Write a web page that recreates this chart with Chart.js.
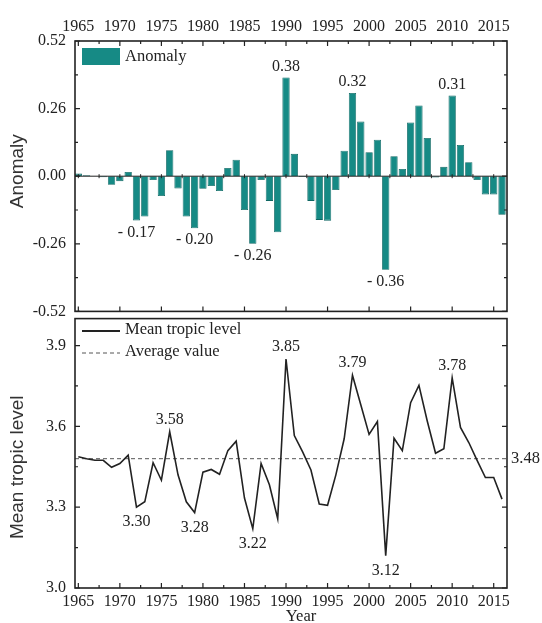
<!DOCTYPE html>
<html>
<head>
<meta charset="utf-8">
<script src="https://cdn.jsdelivr.net/npm/chart.js@4"></script>
<style>
  body { margin: 0; background: #fff; }
  #wrap { position: relative; width: 542px; height: 623px; }
  canvas { position: absolute; left: 0; }
  #top { top: 0; }
  #bottom { top: 300px; }
</style>
</head>
<body>
<div id="wrap">
  <canvas id="top" width="542" height="330"></canvas>
  <canvas id="bottom" width="542" height="323"></canvas>
</div>
<script>
// Anomaly + mean tropic level, 1965-2016

const years = [1965,1966,1967,1968,1969,1970,1971,1972,1973,1974,1975,1976,1977,1978,1979,1980,
  1981,1982,1983,1984,1985,1986,1987,1988,1989,1990,1991,1992,1993,1994,1995,1996,1997,1998,1999,
  2000,2001,2002,2003,2004,2005,2006,2007,2008,2009,2010,2011,2012,2013,2014,2015,2016];

const anomaly = [0.01,0.004,0.0,-0.004,-0.033,-0.019,0.016,-0.17,-0.155,-0.015,-0.076,0.10,
  -0.047,-0.155,-0.20,-0.048,-0.038,-0.057,0.032,0.063,-0.13,-0.26,-0.015,-0.095,-0.216,0.38,
  0.086,-0.003,-0.095,-0.168,-0.171,-0.053,0.098,0.32,0.21,0.092,0.14,-0.36,0.077,0.028,0.207,
  0.272,0.147,-0.005,0.036,0.31,0.12,0.054,-0.015,-0.07,-0.07,-0.148];

const mtl = [3.487,3.48,3.474,3.474,3.448,3.462,3.493,3.30,3.32,3.465,3.40,3.58,3.42,3.32,3.28,
  3.43,3.44,3.422,3.51,3.545,3.334,3.22,3.462,3.383,3.257,3.85,3.566,3.505,3.438,3.312,3.307,
  3.42,3.554,3.79,3.68,3.57,3.618,3.12,3.556,3.51,3.688,3.752,3.62,3.50,3.517,3.78,3.596,3.54,
  3.474,3.41,3.41,3.33];

const avgValue = 3.48;

const yearTicks = [1965,1970,1975,1980,1985,1990,1995,2000,2005,2010,2015];
const anomalyTicks = [-0.52,-0.26,0,0.26,0.52];
const mtlTicks = [3.0,3.3,3.6,3.9];

// labelled extremes: [year, value, text, side]
const anomalyNotes = [
  [1972,-0.17,'- 0.17','below'], [1979,-0.20,'- 0.20','below'], [1986,-0.26,'- 0.26','below'],
  [1990,0.38,'0.38','above'], [1998,0.32,'0.32','above'], [2002,-0.36,'- 0.36','below'],
  [2010,0.31,'0.31','above']
];
const mtlNotes = [
  [1972,3.30,'3.30','below'], [1976,3.58,'3.58','above'], [1979,3.28,'3.28','below'],
  [1986,3.22,'3.22','below'], [1990,3.85,'3.85','above'], [1998,3.79,'3.79','above'],
  [2002,3.12,'3.12','below'], [2010,3.78,'3.78','above']
];

const xMin = 1964.6, xMax = 2016.6;
const serif = "'Liberation Serif', 'Times New Roman', serif";
const sans = "'Liberation Sans', Arial, sans-serif";
const ink = '#222';
const teal = '#168a85';

function drawTicks(ctx, scale, values, from, dir, len, vertical) {
  ctx.beginPath();
  values.forEach(v => {
    const p = scale.getPixelForValue(v);
    if (vertical) { ctx.moveTo(p, from); ctx.lineTo(p, from + dir * len(v)); }
    else { ctx.moveTo(from, p); ctx.lineTo(from + dir * len(v), p); }
  });
  ctx.stroke();
}

function range(a, b, step) {
  const out = [];
  for (let v = a; v <= b + 1e-9; v += step) out.push(Math.round(v * 1000) / 1000);
  return out;
}

function framePlugin(cfg) {
  return {
    id: 'frame',
    afterDraw(chart) {
      const ctx = chart.ctx, a = chart.chartArea;
      const xs = chart.scales.x, ys = chart.scales.y;
      ctx.save();
      ctx.strokeStyle = ink;
      ctx.lineWidth = 1.6;
      ctx.strokeRect(a.left, a.top, a.right - a.left, a.bottom - a.top);
      ctx.lineWidth = 1.2;
      const yMinor = range(ys.min, ys.max, cfg.yStep / 2);
      const isMajorY = v => Math.abs(Math.round(v / cfg.yStep) * cfg.yStep - v) < 1e-6 ? 5 : 3;
      drawTicks(ctx, ys, yMinor, a.left, 1, isMajorY, false);
      drawTicks(ctx, ys, yMinor, a.right, -1, isMajorY, false);
      const xAll = range(1965, 2015, 2.5);
      const isMajorX = v => (v % 5 === 0 ? 5 : 3);
      if (cfg.top) {
        drawTicks(ctx, xs, xAll, a.top, 1, isMajorX, true);
        drawTicks(ctx, xs, yearTicks, a.bottom, -1, () => 5, true);
        // zero line
        const z = ys.getPixelForValue(0);
        ctx.lineWidth = 1;
        ctx.beginPath();
        ctx.moveTo(a.left, z); ctx.lineTo(a.right, z);
        ctx.stroke();
        drawTicks(ctx, xs, xAll, z - 2, 1, () => 4, true);
      } else {
        drawTicks(ctx, xs, xAll, a.bottom, -1, isMajorX, true);
      }

      // notes
      ctx.fillStyle = ink;
      ctx.font = '16px ' + serif;
      ctx.textAlign = 'center';
      cfg.notes.forEach(([yr, v, txt, side]) => {
        const x = xs.getPixelForValue(yr);
        const y = ys.getPixelForValue(v);
        if (side === 'above') { ctx.textBaseline = 'bottom'; ctx.fillText(txt, x, y - cfg.gapAbove); }
        else { ctx.textBaseline = 'top'; ctx.fillText(txt, x, y + cfg.gapBelow); }
      });

      // y axis title
      ctx.save();
      ctx.font = '19px ' + sans;
      ctx.fillStyle = '#333';
      ctx.textAlign = 'center';
      ctx.textBaseline = 'middle';
      ctx.translate(18, (a.top + a.bottom) / 2 + cfg.titleShift);
      ctx.rotate(-Math.PI / 2);
      ctx.fillText(cfg.title, 0, 0);
      ctx.restore();

      cfg.extra && cfg.extra(chart, ctx, a, xs, ys);
      ctx.restore();
    }
  };
}

const tickFont = { family: serif, size: 16 };

// Top panel: anomaly bars
new Chart(document.getElementById('top'), {
  type: 'bar',
  data: {
    datasets: [{
      label: 'Anomaly',
      data: years.map((y, i) => ({ x: y, y: anomaly[i] })),
      backgroundColor: teal,
      borderColor: '#0e6662',
      borderWidth: 0.8,
      barPercentage: 0.88,
      categoryPercentage: 1
    }]
  },
  options: {
    responsive: false,
    animation: false,
    devicePixelRatio: 1,
    layout: { padding: { left: 0, right: 35, top: 0, bottom: 16 } },
    plugins: { legend: { display: false }, tooltip: { enabled: false } },
    scales: {
      x: {
        type: 'linear', position: 'top', min: xMin, max: xMax, offset: false,
        afterBuildTicks: s => { s.ticks = yearTicks.map(v => ({ value: v })); },
        afterFit: s => { s.height = 41; },
        grid: { display: false, drawTicks: false, offset: false },
        border: { display: false },
        ticks: { font: tickFont, color: ink, padding: 5, maxRotation: 0, autoSkip: false, callback: v => String(v) }
      },
      y: {
        min: -0.52, max: 0.52,
        afterBuildTicks: s => { s.ticks = anomalyTicks.map(v => ({ value: v })); },
        afterFit: s => { s.width = 75; },
        grid: { display: false, drawTicks: false },
        border: { display: false },
        ticks: { font: tickFont, color: ink, padding: 9, callback: v => Number(v).toFixed(2) }
      }
    }
  },
  plugins: [framePlugin({
    top: true, yStep: 0.26, notes: anomalyNotes, gapAbove: 3, gapBelow: 4,
    title: 'Anomaly', titleShift: -5,
    extra(chart, ctx) {
      const ds = chart.data.datasets[0];
      ctx.fillStyle = ds.backgroundColor;
      ctx.fillRect(82, 48, 38, 17);
      ctx.fillStyle = ink;
      ctx.font = '16.5px ' + serif;
      ctx.textAlign = 'left';
      ctx.textBaseline = 'middle';
      ctx.fillText(ds.label, 125, 57);
    }
  })]
});

// Bottom panel: mean tropic level
new Chart(document.getElementById('bottom'), {
  type: 'line',
  data: {
    datasets: [{
      label: 'Mean tropic level',
      data: years.map((y, i) => ({ x: y, y: mtl[i] })),
      borderColor: ink,
      borderWidth: 1.6,
      pointRadius: 0,
      tension: 0
    }, {
      label: 'Average value',
      data: [{ x: xMin, y: avgValue }, { x: xMax, y: avgValue }],
      borderColor: '#555',
      borderWidth: 1,
      borderDash: [4, 3],
      pointRadius: 0
    }]
  },
  options: {
    responsive: false,
    animation: false,
    devicePixelRatio: 1,
    layout: { padding: { left: 0, right: 35, top: 14, bottom: 0 } },
    plugins: { legend: { display: false }, tooltip: { enabled: false } },
    scales: {
      x: {
        type: 'linear', position: 'bottom', min: xMin, max: xMax,
        afterBuildTicks: s => { s.ticks = yearTicks.map(v => ({ value: v })); },
        afterFit: s => { s.height = 35; },
        grid: { display: false, drawTicks: false },
        border: { display: false },
        ticks: { font: tickFont, color: ink, padding: 4, maxRotation: 0, autoSkip: false, callback: v => String(v) }
      },
      y: {
        min: 3.0, max: 4.0,
        afterBuildTicks: s => { s.ticks = mtlTicks.map(v => ({ value: v })); },
        afterFit: s => { s.width = 75; },
        grid: { display: false, drawTicks: false },
        border: { display: false },
        ticks: { font: tickFont, color: ink, padding: 9, callback: v => Number(v).toFixed(1) }
      }
    }
  },
  plugins: [framePlugin({
    top: false, yStep: 0.3, notes: mtlNotes, gapAbove: 4, gapBelow: 7,
    title: 'Mean tropic level', titleShift: 14,
    extra(chart, ctx, a, xs, ys) {
      const [main, avg] = chart.data.datasets;
      ctx.font = '16.5px ' + serif;
      ctx.textAlign = 'left';
      ctx.textBaseline = 'middle';
      ctx.strokeStyle = main.borderColor;
      ctx.lineWidth = 2;
      ctx.beginPath(); ctx.moveTo(82, 31); ctx.lineTo(120, 31); ctx.stroke();
      ctx.strokeStyle = avg.borderColor;
      ctx.lineWidth = 1;
      ctx.setLineDash(avg.borderDash);
      ctx.beginPath(); ctx.moveTo(82, 53); ctx.lineTo(120, 53); ctx.stroke();
      ctx.setLineDash([]);
      ctx.fillStyle = ink;
      ctx.fillText(main.label, 125, 30);
      ctx.fillText(avg.label, 125, 52);
      // average value label at the right edge
      ctx.fillText(avgValue.toFixed(2), a.right + 4, ys.getPixelForValue(avgValue));
      // x axis title
      ctx.textAlign = 'center';
      ctx.fillText('Year', 301, 317);
    }
  })]
});
</script>
</body>
</html>
